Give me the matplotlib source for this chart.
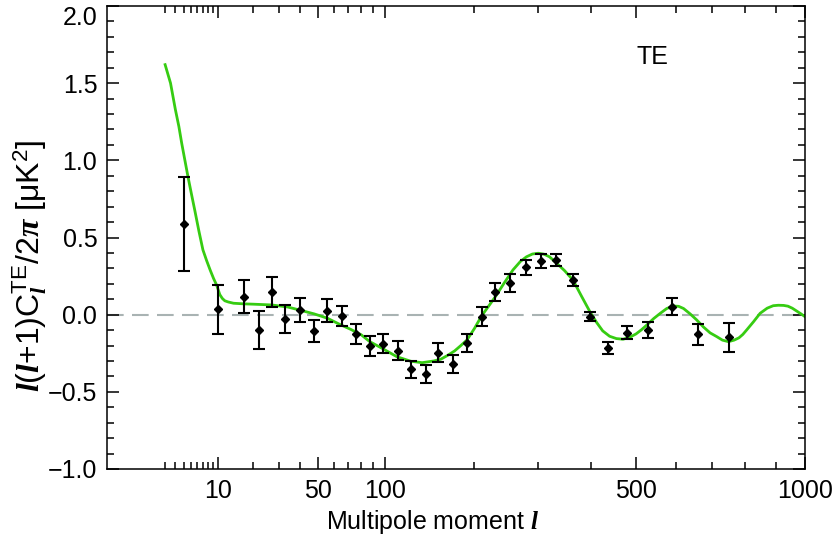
import numpy as np
import matplotlib
matplotlib.use("Agg")
import matplotlib.pyplot as plt
from matplotlib.ticker import FixedLocator, NullFormatter, MultipleLocator, FuncFormatter

plt.rcParams["font.family"] = ["Liberation Sans", "DejaVu Sans"]
plt.rcParams["mathtext.fontset"] = "custom"
plt.rcParams["mathtext.rm"] = "Liberation Sans"
plt.rcParams["mathtext.sf"] = "Liberation Sans"
plt.rcParams["mathtext.it"] = "Liberation Serif:italic:bold"
plt.rcParams["mathtext.bf"] = "Liberation Sans:bold"

# Binned TE data points (multipole, value, 1-sigma error)
ell = [4, 10, 17, 22, 27, 33, 40, 48, 56, 66, 76, 87, 98, 112, 125, 141, 155,
       173, 191, 211, 231, 253, 279, 305, 332, 364, 398, 437, 480, 530, 589, 661, 750]
te = [0.586, 0.035, 0.117, -0.099, 0.149, -0.030, 0.030, -0.104, 0.026, -0.008,
      -0.125, -0.203, -0.188, -0.233, -0.354, -0.384, -0.246, -0.320, -0.181,
      -0.013, 0.147, 0.207, 0.307, 0.350, 0.355, 0.225, -0.013, -0.214, -0.117,
      -0.099, 0.052, -0.127, -0.147]
err = [0.306, 0.158, 0.108, 0.125, 0.097, 0.090, 0.075, 0.070, 0.073, 0.065,
       0.062, 0.063, 0.063, 0.060, 0.057, 0.060, 0.062, 0.060, 0.058, 0.060,
       0.060, 0.057, 0.049, 0.045, 0.040, 0.037, 0.030, 0.038, 0.043, 0.049,
       0.056, 0.067, 0.096]

# Best-fit model curve
model_l = [2, 2.5, 3, 3.4, 3.75, 4.2, 4.6, 5.1, 5.6, 6.3, 7, 7.7, 8.4, 9.1, 9.8,
           10.5, 11.1, 11.7, 12.6, 14, 17, 20, 27, 34, 40, 48, 56, 64, 72, 80,
           87, 98, 111, 125, 137, 150, 158, 166, 175, 183, 191, 201, 211, 221,
           231, 245, 258, 270, 280, 290, 300, 310, 320, 332, 348, 364, 381, 398,
           412, 425, 440, 455, 470, 485, 500, 513, 526, 543, 560, 576, 593, 607,
           620, 638, 656, 675, 694, 713, 730, 748, 765, 780, 792, 804, 826, 847,
           870, 890, 907, 925, 940, 955, 970, 985, 1000]
model_te = [1.62, 1.50, 1.33, 1.22, 1.11, 0.99, 0.89, 0.78, 0.678, 0.54, 0.42,
            0.35, 0.289, 0.235, 0.19, 0.13, 0.105, 0.09, 0.082, 0.074, 0.070,
            0.068, 0.063, 0.050, 0.030, 0.005, -0.023, -0.062, -0.095, -0.13,
            -0.175, -0.22, -0.272, -0.302, -0.311, -0.30, -0.289, -0.265,
            -0.235, -0.20, -0.164, -0.09, -0.008, 0.055, 0.117, 0.21, 0.29,
            0.345, 0.375, 0.393, 0.398, 0.392, 0.375, 0.337, 0.285, 0.225,
            0.12, 0.02, -0.05, -0.105, -0.14, -0.155, -0.159, -0.147, -0.125,
            -0.098, -0.067, -0.025, 0.01, 0.04, 0.056, 0.054, 0.04, 0.005,
            -0.034, -0.08, -0.118, -0.142, -0.165, -0.175, -0.165, -0.15,
            -0.128, -0.099, -0.045, 0.009, 0.042, 0.058, 0.061, 0.06, 0.055,
            0.042, 0.024, 0.006, -0.013]

major_l = [10, 50, 100, 500, 1000]
minor_l = [2, 3, 4, 5, 6, 7, 8, 9, 20, 30, 40, 60, 70, 80, 90,
           200, 300, 400, 600, 700, 800, 900]


def fwd(x):
    x = np.asarray(x, dtype=float)
    return np.sign(x) * np.abs(x) ** 0.4


def inv(x):
    x = np.asarray(x, dtype=float)
    return np.sign(x) * np.abs(x) ** 2.5


fig = plt.figure(figsize=(8.32, 5.51), dpi=100)
ax = fig.add_axes([107 / 832, 82 / 551, 698 / 832, 463 / 551])

ax.axhline(0, color="#a9b3b3", lw=1.5, dashes=(8, 4), zorder=1)
ax.plot(model_l, model_te, color="#36cc12", lw=2.0, zorder=2)
ax.errorbar(ell, te, yerr=err, fmt="D", color="black", ms=4.5, elinewidth=1.5,
            capsize=4, capthick=1.5, zorder=3)

ax.set_xscale("function", functions=(fwd, inv))
ax.set_xlim(0, 1000)
ax.set_ylim(-1.0, 2.0)

ax.xaxis.set_major_locator(FixedLocator(major_l))
ax.xaxis.set_minor_locator(FixedLocator(minor_l))
ax.xaxis.set_major_formatter(FuncFormatter(lambda v, p: "%d" % v))
ax.xaxis.set_minor_formatter(NullFormatter())
ax.yaxis.set_major_locator(MultipleLocator(0.5))
ax.yaxis.set_minor_locator(MultipleLocator(0.1))
ax.yaxis.set_major_formatter(
    FuncFormatter(lambda v, p: ("%.1f" % v).replace("-", "\u2212")))

ax.tick_params(which="both", direction="in", top=True, right=True, width=1.1,
               labelsize=18)
ax.tick_params(which="major", length=8.5, pad=7)
ax.tick_params(which="minor", length=5)
for s in ax.spines.values():
    s.set_linewidth(1.1)

fig.text(652 / 832, 1 - 57 / 551, "TE", fontsize=18, ha="center", va="center")
fig.text(433 / 832, 1 - 522 / 551, r"Multipole moment $l$", fontsize=18,
         ha="center", va="center")
fig.text(30 / 832, 1 - 266 / 551,
         r"$l(l$+1)C$_{l}^{\rm TE}$/2$\pi$ [μK$^{\rm 2}$]", fontsize=23,
         rotation=90, ha="center", va="center")

# keep the top "2.0" label inside the figure
fig.canvas.draw()
for t in ax.yaxis.get_major_ticks():
    if t.get_loc() > 1.99:
        t.label1.set_verticalalignment("top")

fig.savefig("out.png", dpi=100)
